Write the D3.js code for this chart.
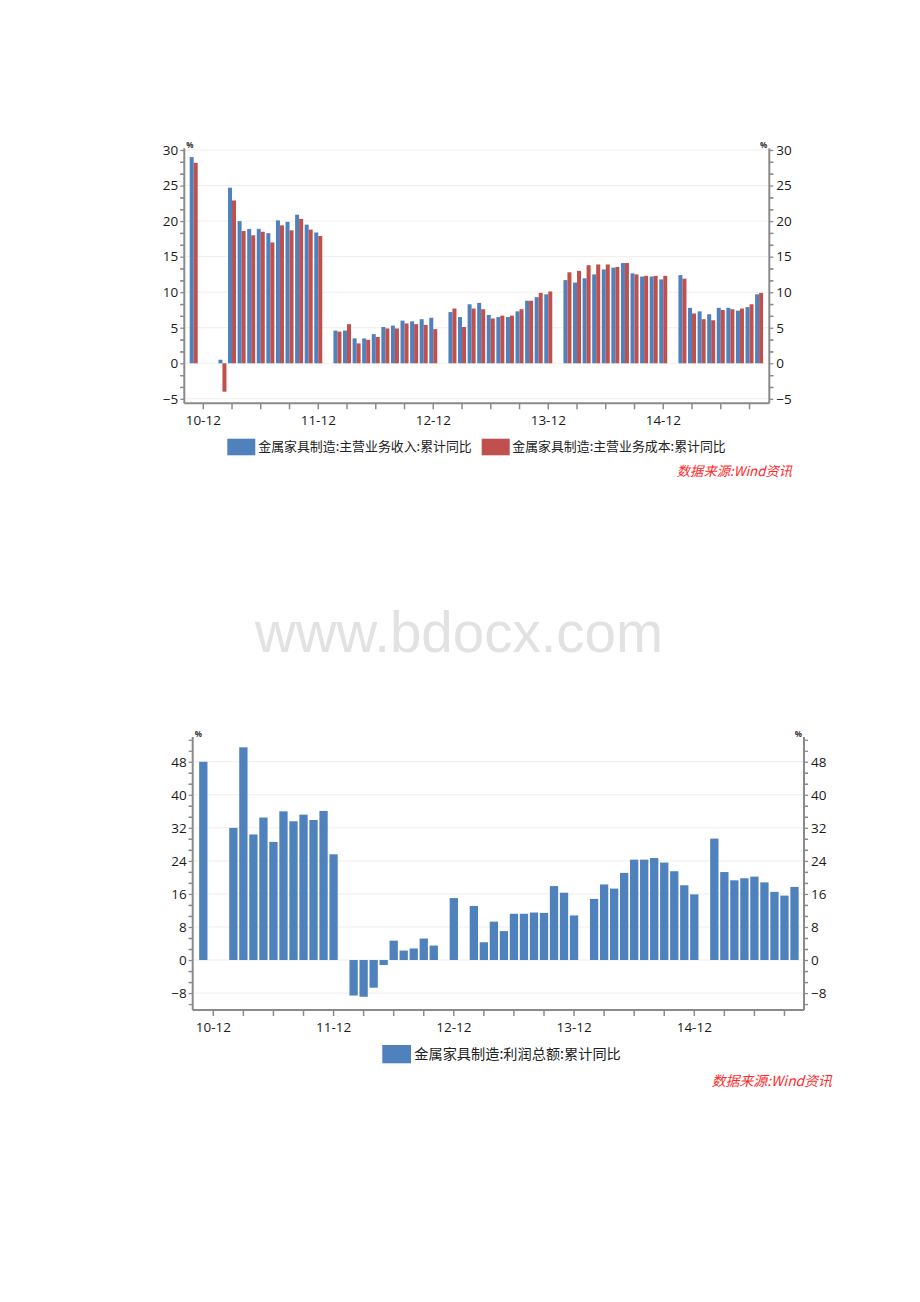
<!DOCTYPE html>
<html><head><meta charset="utf-8">
<script src="https://cdn.jsdelivr.net/npm/d3@7"></script>
<style>body{margin:0;background:#fff}</style>
</head><body>
<svg id="c" width="920" height="1302"></svg>
<script>
const months = ["10-11","10-12",
 "11-01","11-02","11-03","11-04","11-05","11-06","11-07","11-08","11-09","11-10","11-11","11-12",
 "12-01","12-02","12-03","12-04","12-05","12-06","12-07","12-08","12-09","12-10","12-11","12-12",
 "13-01","13-02","13-03","13-04","13-05","13-06","13-07","13-08","13-09","13-10","13-11","13-12",
 "14-01","14-02","14-03","14-04","14-05","14-06","14-07","14-08","14-09","14-10","14-11","14-12",
 "15-01","15-02","15-03","15-04","15-05","15-06","15-07","15-08","15-09","15-10"];
const revenue = [29.0,null,
 null,0.5,24.7,20.0,18.9,18.9,18.3,20.1,19.9,20.9,19.5,18.4,
 null,4.6,4.6,3.5,3.5,4.1,5.1,5.3,6.0,5.9,6.2,6.4,
 null,7.2,6.5,8.3,8.5,6.8,6.5,6.5,7.3,8.8,9.3,9.7,
 null,11.7,11.35,11.95,12.5,13.2,13.45,14.1,12.65,12.2,12.2,11.8,
 null,12.4,7.8,7.3,6.9,7.8,7.8,7.4,7.9,9.7];
const cost = [28.2,null,
 null,-4.0,22.9,18.6,18.0,18.5,17.0,19.4,18.7,20.3,18.8,17.9,
 null,4.45,5.5,2.8,3.3,3.7,4.9,4.9,5.6,5.5,5.4,4.8,
 null,7.7,5.1,7.7,7.6,6.3,6.7,6.7,7.6,8.8,9.9,10.1,
 null,12.8,13.0,13.8,13.9,13.9,13.55,14.1,12.5,12.3,12.3,12.3,
 null,11.9,7.0,6.2,6.05,7.5,7.6,7.7,8.3,9.9];
const profit = [48.0,null,
 null,32.0,51.5,30.4,34.5,28.6,36.0,33.6,35.2,33.9,36.1,25.6,
 null,-8.6,-8.9,-6.7,-1.2,4.7,2.3,2.8,5.2,3.5,null,15.0,
 null,13.1,4.3,9.3,7.0,11.2,11.2,11.5,11.4,17.9,16.3,10.8,
 null,14.8,18.3,17.3,21.1,24.3,24.3,24.7,23.6,21.5,18.1,15.9,
 null,29.4,21.3,19.3,19.8,20.2,18.8,16.5,15.6,17.7];
const topYTicks = [-5,0,5,10,15,20,25,30];
const bottomYTicks = [-8,0,8,16,24,32,40,48];
const xLabels = ["10-12","11-12","12-12","13-12","14-12"];
const seriesNamesTop = ["金属家具制造:主营业务收入:累计同比","金属家具制造:主营业务成本:累计同比"];
const seriesNameBottom = "金属家具制造:利润总额:累计同比";
const sourceText = "数据来源:Wind资讯";

const BLUE = "#4f81bd", RED = "#c0504d";
const svg = d3.select("#c");
svg.append("rect").attr("width",920).attr("height",1302).attr("fill","#fff");

function chart(cfg){
  const g = svg.append("g");
  const x = d3.scaleBand().domain(months).range([cfg.x0, cfg.x1]);
  const y = d3.scaleLinear().domain(cfg.yDomain).range([cfg.B, cfg.T]);
  const bw = x.bandwidth();
  g.selectAll(".grid").data(cfg.ticks).join("line")
    .attr("x1", cfg.L+1).attr("x2", cfg.R-1)
    .attr("y1", d=>y(d)).attr("y2", d=>y(d))
    .attr("stroke","#eeeeee").attr("stroke-width",1);
  cfg.series.forEach(s=>{
    const data = months.map((m,i)=>({m, v:s.values[i]})).filter(d=>d.v!=null);
    g.selectAll(null).data(data).join("rect")
      .attr("x", d=>x(d.m)+bw/2+s.offset)
      .attr("width", s.width)
      .attr("y", d=>y(Math.max(0,d.v)))
      .attr("height", d=>Math.abs(y(d.v)-y(0)))
      .attr("fill", s.color);
  });
  const step = cfg.ticks[1]-cfg.ticks[0];
  const minor = [];
  cfg.ticks.forEach(t=>{ [-2,-1,1,2].forEach(k=>{ const v=t+k*step/3; if(v>cfg.yDomain[0]&&v<cfg.yDomain[1]) minor.push(v);});});
  const axisCol = "#8a8a8a";
  const fontNum = "'Open Sans', 'Liberation Sans', sans-serif";
  const left = g.append("g").attr("transform",`translate(${cfg.L},0)`)
    .call(d3.axisLeft(y).tickValues(cfg.ticks).tickSize(4).tickPadding(2));
  const leftMinor = g.append("g").attr("transform",`translate(${cfg.L},0)`)
    .call(d3.axisLeft(y).tickValues(minor).tickSize(4).tickFormat(""));
  const right = g.append("g").attr("transform",`translate(${cfg.R},0)`)
    .call(d3.axisRight(y).tickValues(cfg.ticks).tickSize(4).tickPadding(3));
  const rightMinor = g.append("g").attr("transform",`translate(${cfg.R},0)`)
    .call(d3.axisRight(y).tickValues(minor).tickSize(4).tickFormat(""));
  [left,leftMinor,right,rightMinor].forEach(a=>{
    a.select(".domain").remove();
    a.selectAll("line").attr("stroke",axisCol).attr("stroke-width",1.3);
    a.selectAll("text").attr("fill","#1a1a1a").style("font-family",fontNum).style("font-size","13.5px");
  });
  g.append("line").attr("x1",cfg.L).attr("x2",cfg.L).attr("y1",cfg.T).attr("y2",cfg.B).attr("stroke",axisCol).attr("stroke-width",2);
  g.append("line").attr("x1",cfg.R).attr("x2",cfg.R).attr("y1",cfg.T).attr("y2",cfg.B).attr("stroke",axisCol).attr("stroke-width",2);
  g.append("line").attr("x1",cfg.L).attr("x2",cfg.R).attr("y1",cfg.B).attr("y2",cfg.B).attr("stroke",axisCol).attr("stroke-width",2);
  const q = months.filter(m=>/-(03|06|09|12)$/.test(m));
  const xa = g.append("g").attr("transform",`translate(0,${cfg.B})`)
    .call(d3.axisBottom(x).tickValues(q).tickSize(6).tickPadding(6).tickFormat(d=>xLabels.includes(d)?d:""));
  xa.select(".domain").remove();
  xa.selectAll("line").attr("stroke",axisCol).attr("stroke-width",1.5);
  xa.selectAll("text").attr("fill","#1a1a1a").style("font-family",fontNum).style("font-size","13.5px");
  g.append("text").attr("x",cfg.L+2).attr("y",cfg.T-0.5).text("%")
    .style("font-family",fontNum).style("font-size","8px").style("font-weight","bold").attr("fill","#333");
  g.append("text").attr("x",cfg.R-2).attr("y",cfg.T-0.5).attr("text-anchor","end").text("%")
    .style("font-family",fontNum).style("font-size","8px").style("font-weight","bold").attr("fill","#333");
}

chart({x0:188.9, x1:763.9, L:184.3, R:769.3, T:148.3, B:403.3, yDomain:[-5.63,30.24], ticks:topYTicks,
  series:[{values:revenue,color:BLUE,offset:-4,width:4},{values:cost,color:RED,offset:0,width:4}]});
chart({x0:198.3, x1:799.5, L:192.7, R:804, T:737, B:1010, yDomain:[-12.1,54], ticks:bottomYTicks,
  series:[{values:profit,color:BLUE,offset:-4.15,width:8.3}]});

const cjk = "'Noto Sans CJK SC', sans-serif";
svg.append("rect").attr("x",227.3).attr("y",438.7).attr("width",28).attr("height",16.6).attr("fill",BLUE);
svg.append("text").attr("x",258.3).attr("y",447).attr("dominant-baseline","middle").text(seriesNamesTop[0])
  .style("font-family",cjk).style("font-size","12.9px").attr("fill","#222");
svg.append("rect").attr("x",481.7).attr("y",438.7).attr("width",28).attr("height",16.6).attr("fill",RED);
svg.append("text").attr("x",512.3).attr("y",447).attr("dominant-baseline","middle").text(seriesNamesTop[1])
  .style("font-family",cjk).style("font-size","12.9px").attr("fill","#222");
svg.append("text").attr("x",792).attr("y",472).attr("text-anchor","end").attr("dominant-baseline","middle").text(sourceText)
  .style("font-family",cjk).style("font-size","13.3px").style("font-style","italic").attr("fill","#ff2b2b");
svg.append("text").attr("x",459).attr("y",652).attr("text-anchor","middle").text("www.bdocx.com")
  .style("font-family","'Liberation Sans', Arial, sans-serif").style("font-size","56.5px").attr("fill","#e2e2e2");
svg.append("rect").attr("x",382.3).attr("y",1045).attr("width",28.7).attr("height",18.3).attr("fill",BLUE);
svg.append("text").attr("x",414.3).attr("y",1055).attr("dominant-baseline","middle").text(seriesNameBottom)
  .style("font-family",cjk).style("font-size","14.2px").attr("fill","#222");
svg.append("text").attr("x",832).attr("y",1082).attr("text-anchor","end").attr("dominant-baseline","middle").text(sourceText)
  .style("font-family",cjk).style("font-size","13.9px").style("font-style","italic").attr("fill","#ff2b2b");
</script>
</body></html>
